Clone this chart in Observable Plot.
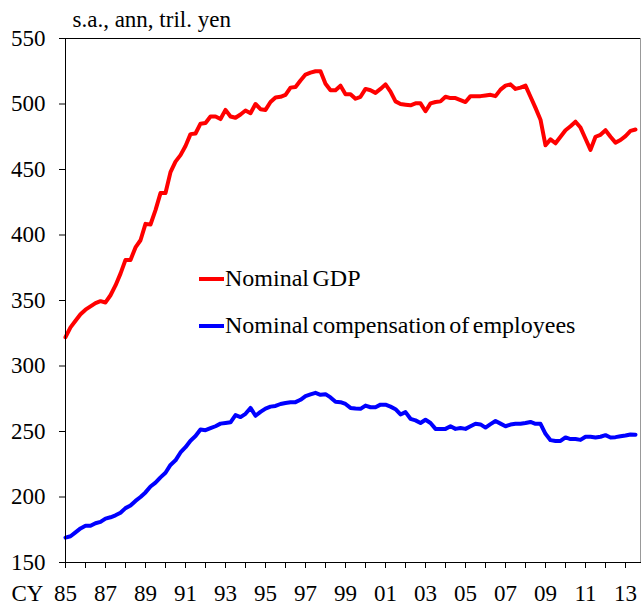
<!DOCTYPE html>
<html><head><meta charset="utf-8">
<script src="https://cdn.jsdelivr.net/npm/d3@7"></script>
<script src="https://cdn.jsdelivr.net/npm/@observablehq/plot@0.6"></script>
<style>
body{margin:0;background:#fff;}
#wrap{position:relative;width:641px;height:605px;}
#wrap, #wrap *{font-family:'Liberation Serif', serif !important;}
.leg{position:absolute;left:199px;display:flex;align-items:center;font-size:24px;line-height:27px;word-spacing:-2.5px;color:#000;white-space:nowrap;}
.sw{width:25px;height:4px;margin-right:1px;}
</style></head><body><div id="wrap"></div>
<script>
// Quarterly data, 1985 Q1 .. 2013 Q3 (trillion yen, s.a., annualized)
const startYear = 1985;
const gdp = [
  322, 329.5, 334.5, 339.5, 343, 345.5, 348, 349.5, 348.5, 354, 361.5, 370.5,
  381, 381, 390.5, 396, 408.5, 408, 419, 432, 432, 448, 456, 461,
  468, 477, 477.5, 485, 485.5, 490.5, 490.5, 488.5, 495.5, 490.5, 489.5, 492,
  495, 493, 500, 496, 495.5, 501.5, 505, 505.5, 507, 512.5, 513, 518,
  522.5, 524, 525, 525, 515.5, 510.5, 510.5, 514, 507.5, 507.5, 504, 505.5,
  511.5, 510.5, 508.5, 511.5, 515, 509.5, 502, 500, 499.5, 499, 500.5, 500.5,
  494.5, 500.5, 501.5, 502, 505.5, 504.5, 504.5, 503, 501.5, 506, 506, 506,
  506.5, 507, 506, 511, 514, 515, 511.5, 512.5, 514, 505.5, 497, 488,
  468.5, 473, 470, 475, 480, 483, 486.5, 482, 473.5, 465, 475, 476.5,
  480, 475, 470.5, 472.5, 475.5, 479.5, 480.5
];
const comp = [
  169, 170, 173, 176, 178, 178, 180, 181, 183.5, 184.5, 186, 188,
  191.5, 193.5, 197, 200, 203.5, 208, 211, 215, 218.5, 224.5, 228, 234,
  238, 243, 246.5, 251.5, 251, 252.5, 254, 256, 256.5, 257, 262.5, 261,
  263.5, 268, 262, 265, 267.5, 269, 269.5, 271, 271.8, 272.4, 272.4, 274.2,
  277, 278.3, 279.5, 278, 278.5, 276, 272.7, 272.4, 271, 268, 267.5, 267.3,
  269.8, 268.5, 268.5, 270.5, 270.5, 269, 267, 263, 264.8, 259.7, 258.5, 256.5,
  259, 256.5, 252, 252, 252, 254, 252, 252.6, 252, 254, 255.9, 255.4,
  253, 255.6, 258, 256, 254, 255.3, 255.9, 255.9, 256.5, 257.3, 255.9, 255.9,
  248.2, 243.4, 242.8, 242.8, 245.5, 244.2, 244.2, 243.6, 246, 246, 245.5, 246,
  247.2, 245.4, 245.7, 246.4, 246.9, 247.7, 247.6
];
const seriesNames = ["Nominal GDP", "Nominal compensation of employees"];
const seriesColors = ["#ff0000", "#0000ff"];
const yTicks = [150, 200, 250, 300, 350, 400, 450, 500, 550];
const xTickYears = d3.range(1985, 2014);
const unitLabel = "s.a., ann, tril. yen";
const xPrefix = "CY";

const rows = [];
gdp.forEach((v, i) => rows.push({t: startYear + i / 4, v, s: seriesNames[0]}));
comp.forEach((v, i) => rows.push({t: startYear + i / 4, v, s: seriesNames[1]}));

const chart = Plot.plot({
  width: 641, height: 605,
  marginLeft: 65, marginRight: 1, marginTop: 38, marginBottom: 43,
  style: {fontSize: "23px", background: "white", color: "black", overflow: "visible"},
  x: {domain: [1985, 2013.75]},
  y: {domain: [150, 550]},
  color: {domain: seriesNames, range: seriesColors},
  marks: [
    Plot.line(rows, {x: "t", y: "v", stroke: "s", z: "s", strokeWidth: 4, strokeLinejoin: "round", strokeLinecap: "round"}),
    Plot.frame({stroke: "#000", strokeOpacity: 1}),
    Plot.ruleX([2013.75], {stroke: "#999"}),
    Plot.axisY(yTicks, {tickSize: 6, tickPadding: 14, label: null, strokeOpacity: 1}),
    Plot.axisX(xTickYears, {tickSize: 6, tickPadding: 16, label: null, strokeOpacity: 1,
      tickFormat: d => (d - 1985) % 2 === 0 ? String(d % 100).padStart(2, "0") : ""}),
    Plot.text([xPrefix], {frameAnchor: "bottom-left", dx: -38, dy: 31, lineAnchor: "middle", textAnchor: "middle"}),
    Plot.text([unitLabel], {frameAnchor: "top-left", dx: 7, dy: -12, textAnchor: "start", lineAnchor: "bottom"})
  ]
});
const wrap = document.getElementById("wrap");
wrap.appendChild(chart);
const legendTops = [265, 312];
seriesNames.forEach((name, i) => {
  const d = document.createElement("div");
  d.className = "leg";
  d.style.top = legendTops[i] + "px";
  const sw = document.createElement("span");
  sw.className = "sw";
  sw.style.background = seriesColors[i];
  d.appendChild(sw);
  d.appendChild(document.createTextNode(name));
  wrap.appendChild(d);
});
</script>
</body></html>
